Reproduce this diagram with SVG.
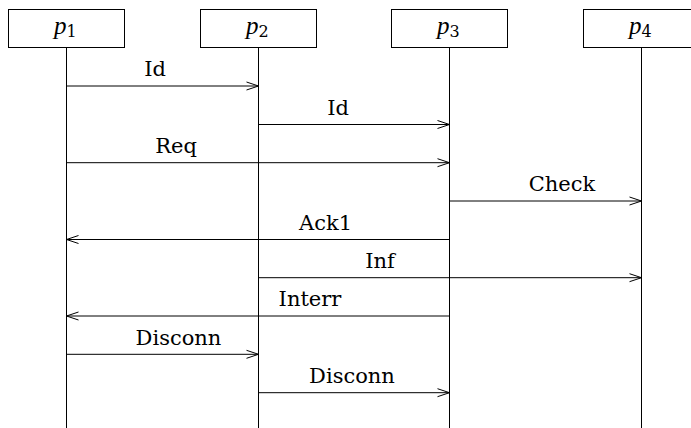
<svg xmlns="http://www.w3.org/2000/svg" width="691" height="428" viewBox="0 0 691 428">
<defs>
<style>
.box{fill:#fff;stroke:#000;stroke-width:1}
.life{stroke:#000;stroke-width:1}
.msg{stroke:#000;stroke-width:1;fill:none;marker-end:url(#ah)}
.lbl{font-family:"DejaVu Serif","Liberation Serif",serif;font-size:21px;fill:#000;text-anchor:middle}
.pn{font-family:"Liberation Serif","DejaVu Serif",serif;font-size:25px;font-style:italic;fill:#000}
.sub{font-family:"DejaVu Serif","Liberation Serif",serif;font-size:16px;font-style:normal}
</style>
<marker id="ah" markerUnits="userSpaceOnUse" markerWidth="14" markerHeight="10" viewBox="-13 -5 14 10" refX="0" refY="0" orient="auto">
<path d="M-12,-4 L0,0 L-12,4" fill="none" stroke="#000" stroke-width="1"/>
</marker>
</defs>
<rect width="691" height="428" fill="#fff"/>
<g id="p1">
<line class="life" x1="66.5" y1="48" x2="66.5" y2="428"/>
<rect class="box" x="8.5" y="9.5" width="116" height="38"/>
<text class="pn" x="54" y="34">p<tspan class="sub" dy="3">1</tspan></text>
</g>
<g id="p2">
<line class="life" x1="258.5" y1="48" x2="258.5" y2="428"/>
<rect class="box" x="200.5" y="9.5" width="116" height="38"/>
<text class="pn" x="246" y="34">p<tspan class="sub" dy="3">2</tspan></text>
</g>
<g id="p3">
<line class="life" x1="449.5" y1="48" x2="449.5" y2="428"/>
<rect class="box" x="391.5" y="9.5" width="116" height="38"/>
<text class="pn" x="437" y="34">p<tspan class="sub" dy="3">3</tspan></text>
</g>
<g id="p4">
<line class="life" x1="641.5" y1="48" x2="641.5" y2="428"/>
<rect class="box" x="583.5" y="9.5" width="116" height="38"/>
<text class="pn" x="629" y="34">p<tspan class="sub" dy="3">4</tspan></text>
</g>
<g id="connectors">
<line class="msg" x1="66.5" y1="86" x2="258.5" y2="86"/>
<text class="lbl" x="155" y="76">Id</text>
<line class="msg" x1="258.5" y1="124.5" x2="449.5" y2="124.5"/>
<text class="lbl" x="338" y="114.5">Id</text>
<line class="msg" x1="66.5" y1="162.7" x2="449.5" y2="162.7"/>
<text class="lbl" x="176" y="153">Req</text>
<line class="msg" x1="449.5" y1="201" x2="641.5" y2="201"/>
<text class="lbl" x="562" y="191">Check</text>
<line class="msg" x1="449.5" y1="239.5" x2="66.5" y2="239.5"/>
<text class="lbl" x="325.5" y="229.5">Ack1</text>
<line class="msg" x1="258.5" y1="277.7" x2="641.5" y2="277.7"/>
<text class="lbl" x="380" y="268">Inf</text>
<line class="msg" x1="449.5" y1="316" x2="66.5" y2="316"/>
<text class="lbl" x="310" y="306">Interr</text>
<line class="msg" x1="66.5" y1="354.3" x2="258.5" y2="354.3"/>
<text class="lbl" x="178.5" y="344.5">Disconn</text>
<line class="msg" x1="258.5" y1="392.7" x2="449.5" y2="392.7"/>
<text class="lbl" x="352" y="383">Disconn</text>
</g>
</svg>
